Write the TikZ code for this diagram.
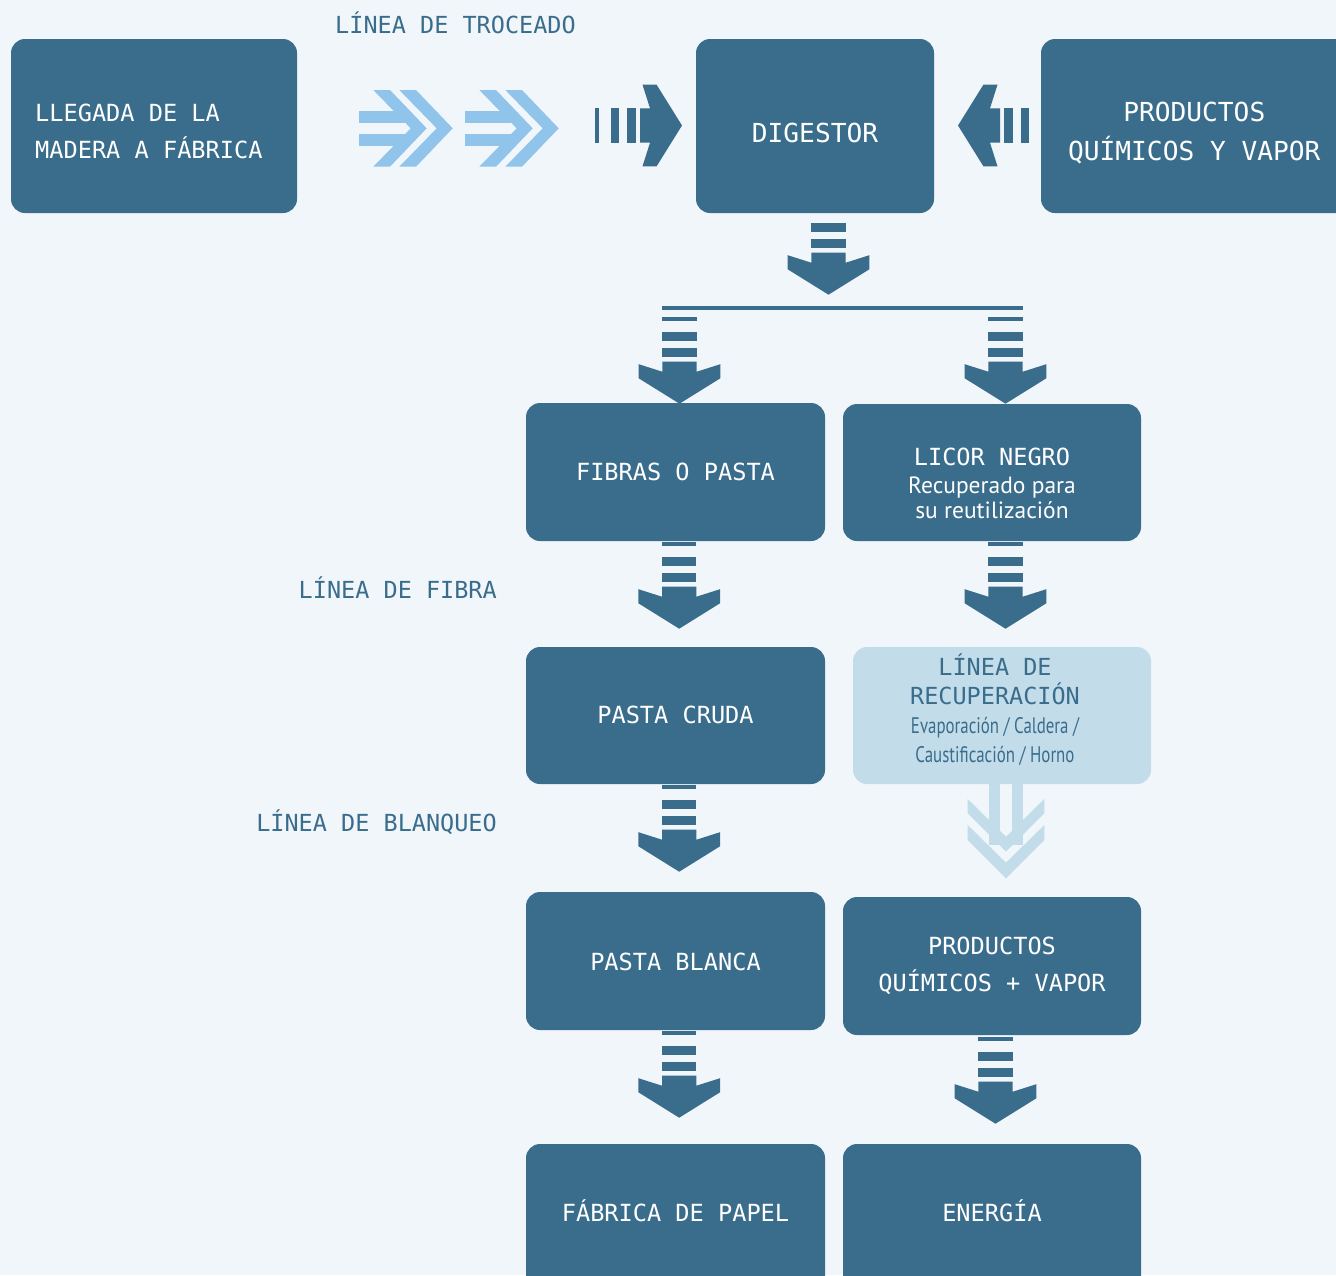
\documentclass[tikz,border=0pt]{standalone}
\usepackage{fontspec}
\setmainfont{PT Sans}
\newfontfamily\monof{DejaVu Sans Mono}
\newfontfamily\condf[FakeStretch=0.75]{PT Sans}
\usetikzlibrary{calc}
\definecolor{bg}{HTML}{F1F6FB}
\definecolor{dark}{HTML}{3A6D8C}
\definecolor{lightbox}{HTML}{C3DCE9}
\definecolor{chev}{HTML}{90C4EA}
\tikzset{
  box/.style={fill=dark, rounded corners=14pt, inner sep=0pt, draw=none},
  lbox/.style={fill=lightbox, rounded corners=14pt, inner sep=0pt, draw=none},
  wtxt/.style={text=white, inner sep=0pt, font=\monof\fontsize{23.6}{36.6}\selectfont},
  btxt/.style={text=white, inner sep=0pt, font=\monof\fontsize{26.2}{38.3}\selectfont},
  lbl/.style={text=dark, inner sep=0pt, font=\monof\fontsize{23.5}{30}\selectfont},
  flow/.pic={
    \fill[dark] (-17.2,-45) rectangle (17.2,-40.7);
    \fill[dark] (-17.2,-29.4) rectangle (17.2,-20.8);
    \fill[dark] (-17.2,-13.4) rectangle (17.2,-4.4);
    \fill[dark] (-17.2,0) -- (17.2,0) -- (17.2,10) -- (40.8,2.5) -- (40.8,16.6)
      -- (0,42) -- (-40.8,16.6) -- (-40.8,2.5) -- (-17.2,10) -- cycle;
  },
  dchev/.pic={
    \fill[chev] (0,21) rectangle (50,32.7);
    \fill[chev] (0,44) rectangle (50,55.7);
    \fill[chev] (14.3,0) -- (31,0) -- (67.7,38.3) -- (31,76.7) -- (14.3,76.7) -- (51.7,38.3) -- cycle;
    \fill[chev] (40.3,0) -- (57,0) -- (93.7,38.3) -- (57,76.7) -- (40.3,76.7) -- (77.7,38.3) -- cycle;
  }
}
\begin{document}
\begin{tikzpicture}[x=1pt,y=-1pt]
\fill[bg] (0,0) rectangle (1336,1275);
\useasboundingbox (0,0) rectangle (1336,1275);

% arrows (drawn first so boxes cover their ends)
\pic at (828.5,252.7) {flow};
\fill[dark] (662,305.7) rectangle (1022.7,310);
\pic at (679.5,361.7) {flow};
\pic at (1005.5,361.7) {flow};
\pic at (679.2,586.7) {flow};
\pic at (1005.5,586.7) {flow};
\pic at (679.2,829.7) {flow};
\pic at (679.2,1075.7) {flow};
\pic at (995.5,1081.7) {flow};
\pic[rotate=90] at (640,125.5) {flow};
\pic[rotate=-90] at (1000,125.5) {flow};
\pic at (359,90) {dchev};
\pic at (465,90) {dchev};

% light recovery arrow
\fill[lightbox] (989.3,780) rectangle (1000,845);
\fill[lightbox] (1011.7,780) rectangle (1022.7,845);
\fill[lightbox] (967.7,799) -- (1006,836.7) -- (1044.3,799) -- (1044.3,813.3) -- (1006,851.7) -- (967.7,813.3) -- cycle;
\fill[lightbox] (967.7,825) -- (1006,862.7) -- (1044.3,825) -- (1044.3,840) -- (1006,878.3) -- (967.7,840) -- cycle;

% boxes
\node[box, minimum width=286pt, minimum height=174pt] (llegada) at (154,126) {};
\node[box, minimum width=238pt, minimum height=174pt] (digestor) at (815,126) {};
\node[box, minimum width=319pt, minimum height=174pt] (prodtop) at (1200.5,126) {};
\node[box, minimum width=299pt, minimum height=138pt] (fibras) at (675.5,472) {};
\node[box, minimum width=298pt, minimum height=137pt] (licor) at (992,472.5) {};
\node[box, minimum width=299pt, minimum height=137pt] (cruda) at (675.5,715.5) {};
\node[lbox, minimum width=298pt, minimum height=137pt] (recup) at (1002,715.5) {};
\node[box, minimum width=299pt, minimum height=138pt] (blanca) at (675.5,961) {};
\node[box, minimum width=298pt, minimum height=138pt] (prodmas) at (992,966) {};
\node[box, minimum width=299pt, minimum height=151pt] (fabrica) at (675.5,1219.5) {};
\node[box, minimum width=298pt, minimum height=151pt] (energia) at (992,1219.5) {};

% texts
\node[wtxt, align=left, anchor=west] (tllegada) at (35,131.3) {LLEGADA DE LA\\MADERA A FÁBRICA};
\node[btxt, anchor=base] (tdigestor) at (815,142) {DIGESTOR};
\node[btxt, align=center] (tprodtop) at (1194.3,133) {PRODUCTOS\\QUÍMICOS Y VAPOR};
\node[wtxt, anchor=base] (tfibras) at (675.5,480) {FIBRAS O PASTA};
\node[text=white, inner sep=0pt, align=center, font=\fontsize{23.5}{25}\selectfont] (tlicor) at (992,483.5)
  {{\monof\fontsize{23.6}{25}\selectfont LICOR NEGRO}\\[3.3pt]Recuperado para\\su reutilización};
\node[wtxt, anchor=base] (tcruda) at (675.5,723) {PASTA CRUDA};
\node[text=dark, inner sep=0pt, align=center, font=\monof\fontsize{23.5}{29}\selectfont] (trecup) at (995,710)
  {LÍNEA DE\\RECUPERACIÓN\\{\condf\fontsize{22.5}{29}\selectfont Evaporación / Caldera /}\\{\condf\fontsize{22.5}{29}\selectfont Caustificación / Horno}};
\node[wtxt, anchor=base] (tblanca) at (675.5,970) {PASTA BLANCA};
\node[wtxt, align=center] (tprodmas) at (992,966) {PRODUCTOS\\QUÍMICOS + VAPOR};
\node[wtxt, anchor=base] (tfabrica) at (675.5,1221) {FÁBRICA DE PAPEL};
\node[wtxt, anchor=base] (tenergia) at (992,1221) {ENERGÍA};

% labels
\node[lbl, anchor=base] (ltroceado) at (455.5,33.3) {LÍNEA DE TROCEADO};
\node[lbl, anchor=base east] (lfibra) at (497,598.3) {LÍNEA DE FIBRA};
\node[lbl, anchor=base east] (lblanqueo) at (497,831.7) {LÍNEA DE BLANQUEO};
\end{tikzpicture}
\end{document}
